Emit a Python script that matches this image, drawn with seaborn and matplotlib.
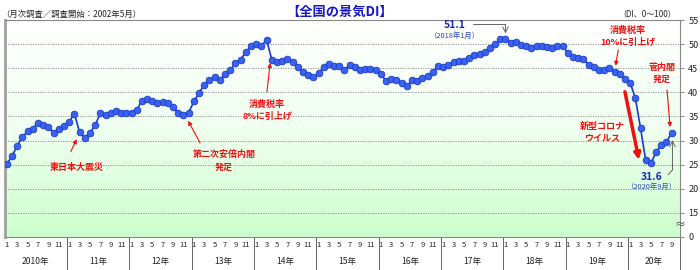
import numpy as np
import pandas as pd
import matplotlib
matplotlib.use('Agg')
import matplotlib.pyplot as plt
import matplotlib.transforms as mtransforms
from matplotlib.colors import LinearSegmentedColormap
import seaborn as sns

# 全国の景気DI (2010年1月 ~ 2020年9月)
di_2010 = [25.1, 26.8, 28.9, 30.8, 31.9, 32.5, 33.7, 33.3, 32.8, 31.6, 32.5, 33.1]
di_2011 = [33.9, 35.6, 31.7, 30.5, 31.6, 33.2, 35.7, 35.3, 35.7, 36.2, 35.7, 35.8]
di_2012 = [35.8, 36.3, 38.3, 38.6, 38.2, 37.7, 38.0, 37.8, 36.9, 35.7, 35.4, 35.8]
di_2013 = [38.1, 39.9, 41.5, 42.5, 43.1, 42.6, 43.7, 44.6, 46.0, 46.8, 48.3, 49.6]
di_2014 = [50.1, 49.6, 50.9, 46.8, 46.3, 46.6, 47.0, 46.3, 45.3, 44.2, 43.6, 43.1]
di_2015 = [44.0, 45.2, 45.8, 45.4, 45.4, 44.7, 45.6, 45.2, 44.7, 44.9, 44.9, 44.7]
di_2016 = [43.7, 42.4, 42.8, 42.5, 42.0, 41.3, 42.5, 42.3, 42.9, 43.4, 44.2, 45.4]
di_2017 = [45.3, 45.7, 46.3, 46.5, 46.6, 47.1, 47.7, 47.9, 48.4, 49.2, 50.0, 51.0]
di_2018 = [51.1, 50.3, 50.5, 49.9, 49.6, 49.2, 49.7, 49.7, 49.5, 49.1, 49.7, 49.6]
di_2019 = [48.2, 47.4, 47.1, 46.9, 45.7, 45.2, 44.7, 44.7, 45.0, 44.2, 43.8, 42.7]
di_2020 = [42.0, 38.8, 32.6, 25.9, 25.3, 27.6, 29.1, 29.7, 31.6]

year_labels = ['2010年', '11年', '12年', '13年', '14年', '15年', '16年', '17年', '18年', '19年', '20年']
ytick_vals = [10, 15, 20, 25, 30, 35, 40, 45, 50, 55]
ytick_labels = ['0', '15', '20', '25', '30', '35', '40', '45', '50', '55']

di = (di_2010 + di_2011 + di_2012 + di_2013 + di_2014 + di_2015 +
      di_2016 + di_2017 + di_2018 + di_2019 + di_2020)
df = pd.DataFrame({'idx': np.arange(len(di)), 'di': di})

sns.set_style('white')
plt.rcParams['font.family'] = ['Noto Sans CJK JP', 'DejaVu Sans']

fig = plt.figure(figsize=(7, 2.7), dpi=100)
ax = fig.add_axes([4.8 / 700, 33 / 270, 675.2 / 700, 217 / 270])

x0, x1 = -0.4, 129.6

# 背景グラデーション
grad = np.linspace(0, 1, 256).reshape(-1, 1)
cmap = LinearSegmentedColormap.from_list('bg', ['#ffffff', '#f0fff0', '#ccffcc'])
ax.imshow(grad, cmap=cmap, extent=[x0, x1, 10, 55], aspect='auto', origin='upper', zorder=0)

for v in ytick_vals[1:-1]:
    ax.axhline(v, color='#8a8a8a', lw=0.6, ls=(0, (1.5, 1.5)), zorder=1)

sns.lineplot(data=df, x='idx', y='di', ax=ax, color='#1a3acc', lw=1.2,
             marker='o', markersize=4.8, markerfacecolor='#3a62f2',
             markeredgecolor='#1c3bc4', markeredgewidth=0.6, zorder=3)

ax.set_xlim(x0, x1)
ax.set_ylim(10, 55)
ax.set_xlabel('')
ax.set_ylabel('')

# 月ラベル
mpos = [i for i in range(len(di)) if (i % 12) % 2 == 0]
ax.set_xticks(mpos, [str(i % 12 + 1) for i in mpos])
ax.tick_params(axis='x', length=0, pad=3, labelsize=5.5)

# 年ラベルと区切り線
trans = mtransforms.blended_transform_factory(ax.transData, ax.transAxes)
for k, lab in enumerate(year_labels):
    start = 12 * k - 0.4
    end = min(start + 12, x1)
    ax.text((start + end) / 2, -0.115, lab, transform=trans, ha='center', va='center', fontsize=6.2)
    ax.plot([end, end], [0, -0.152], transform=trans, color='#666666', lw=0.7, clip_on=False)

ax.yaxis.tick_right()
ax.set_yticks(ytick_vals, ytick_labels)
ax.tick_params(axis='y', length=3, width=0.6, color='#777777', pad=3, labelsize=6.5)

for side in ['top', 'right', 'bottom']:
    ax.spines[side].set_color('#888888')
    ax.spines[side].set_linewidth(0.8)
ax.spines['left'].set_color('#a0a0a0')
ax.spines['left'].set_linewidth(2)

ax.text(x1, 12.5, '≈', ha='center', va='center', fontsize=8, color='#444444', clip_on=False, zorder=5)

# タイトル等
fig.text(340 / 700, 1 - 12 / 270, '【全国の景気DI】', ha='center', va='center',
         fontsize=9.5, fontweight='bold', color='#1414c8')
fig.text(1 / 700, 1 - 14 / 270, '（月次調査／調査開始：2002年5月）', ha='left', va='center', fontsize=6)
fig.text(676 / 700, 1 - 14 / 270, '（DI、0～100）', ha='right', va='center', fontsize=5.8)

blue = '#1a2ab0'
red = '#f01010'
gray = '#666666'

# ピーク
ax.text(86.3, 54.0, '51.1', ha='center', va='center', fontsize=7.5, fontweight='bold', color=blue)
ax.text(86.3, 51.6, '（2018年1月）', ha='center', va='center', fontsize=5.3, color='#2848c0')
ax.plot([89.8, 96], [54.1, 54.1], color=gray, lw=0.7)
ax.annotate('', xy=(96, 52.2), xytext=(96, 54.15),
            arrowprops=dict(arrowstyle='->', color=gray, lw=0.7, shrinkA=0, shrinkB=0))

# 最新値
ax.text(124.2, 22.4, '31.6', ha='center', va='center', fontsize=7.5, fontweight='bold', color=blue)
ax.text(124.2, 20.4, '（2020年9月）', ha='center', va='center', fontsize=5.3, color='#2848c0')
ax.plot([127.3, 128.15], [22.9, 23.9], color=gray, lw=0.7)
ax.annotate('', xy=(128.15, 30.1), xytext=(128.15, 23.9),
            arrowprops=dict(arrowstyle='->', color=gray, lw=0.7, shrinkA=0, shrinkB=0))

# 出来事
kw = dict(ha='center', va='center', fontsize=6.5, fontweight='bold', color=red, linespacing=1.45)
ax.text(13.5, 24.5, '東日本大震災', **kw)
ax.annotate('', xy=(13.44, 30.3), xytext=(12.3, 27.7),
            arrowprops=dict(arrowstyle='-|>', color=red, lw=0.8, mutation_scale=6, shrinkA=0, shrinkB=0))

ax.text(41.8, 25.8, '第二次安倍内閣\n発足', **kw)
ax.annotate('', xy=(34.9, 34.1), xytext=(37.2, 29.5),
            arrowprops=dict(arrowstyle='-|>', color=red, lw=0.8, mutation_scale=6, shrinkA=0, shrinkB=0))

ax.text(50.1, 36.3, '消費税率\n8%に引上げ', **kw)
ax.annotate('', xy=(50.7, 46.1), xytext=(50.07, 40.1),
            arrowprops=dict(arrowstyle='-|>', color=red, lw=0.8, mutation_scale=6, shrinkA=0, shrinkB=0))

ax.text(119.6, 51.6, '消費税率\n10%に引上げ', **kw)
ax.annotate('', xy=(117.2, 45.5), xytext=(117.7, 48.8),
            arrowprops=dict(arrowstyle='-|>', color=red, lw=0.8, mutation_scale=6, shrinkA=0, shrinkB=0))

ax.text(114.6, 31.7, '新型コロナ\nウイルス', **kw)
ax.annotate('', xy=(121.7, 26.0), xytext=(119.0, 40.1),
            arrowprops=dict(arrowstyle='-|>', color=red, lw=2.5, mutation_scale=9, shrinkA=0, shrinkB=0))

ax.text(126.1, 43.9, '菅内閣\n発足', **kw)
ax.annotate('', xy=(127.7, 32.8), xytext=(127.1, 40.5),
            arrowprops=dict(arrowstyle='-|>', color=red, lw=0.8, mutation_scale=6, shrinkA=0, shrinkB=0))

fig.savefig('out.png', dpi=100)
